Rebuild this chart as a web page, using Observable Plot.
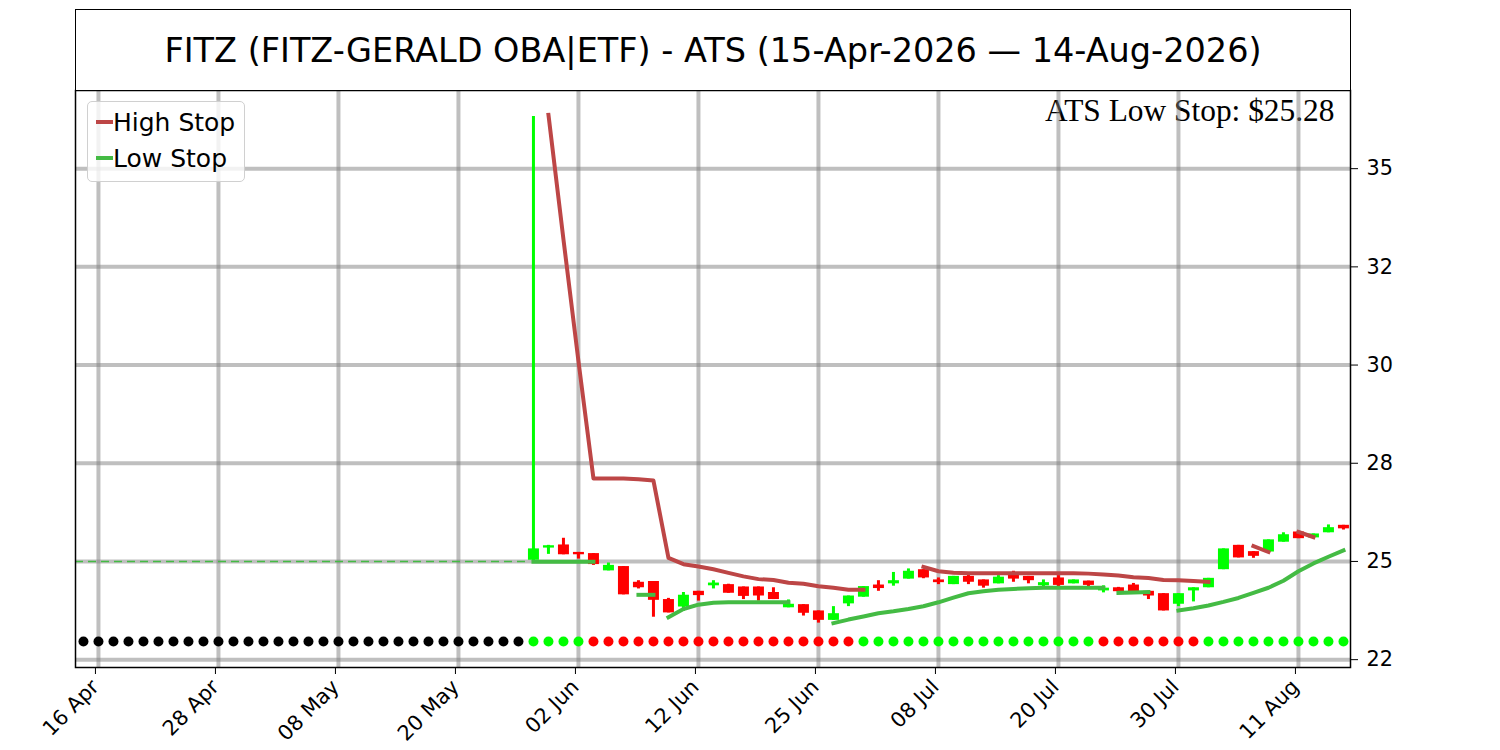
<!DOCTYPE html>
<html>
<head>
<meta charset="utf-8">
<script src="https://cdn.jsdelivr.net/npm/d3@7"></script>
<script src="https://cdn.jsdelivr.net/npm/@observablehq/plot@0.6"></script>
<style>
body { margin: 0; background: #fff; }
#wrap { position: relative; width: 1500px; height: 750px; font-family: "DejaVu Sans"; }
#chart { position: absolute; left: 0; top: 0; }
#title {
  position: absolute; left: 75px; top: 9px; width: 1276px; height: 82px;
  box-sizing: border-box; border: 1.6px solid #000; background: #fff;
  display: flex; align-items: center; justify-content: center;
  font-size: 33.5px; color: #000;
}
#legend {
  position: absolute; left: 87px; top: 101px; width: 158px; height: 81px;
  box-sizing: border-box; border: 1.5px solid #d0d0d0; border-radius: 5px;
  background: rgba(255,255,255,0.8); padding-top: 2px;
}
.row { display: flex; align-items: center; height: 36px; font-size: 25px; color: #000; }
.sw { width: 17px; height: 4px; margin-left: 8px; margin-right: 0px; }
</style>
</head>
<body>
<div id="wrap">
  <div id="chart"></div>
  <div id="title">FITZ (FITZ-GERALD OBA|ETF) - ATS (15-Apr-2026 — 14-Aug-2026)</div>
  <div id="legend"></div>
</div>
<script>
// x = trading day index, 0 = 15 Apr 2026
const tickDays = [1, 9, 17, 25, 33, 41, 49, 57, 65, 73, 81];
const tickLabels = ["16 Apr", "28 Apr", "08 May", "20 May", "02 Jun", "12 Jun", "25 Jun", "08 Jul", "20 Jul", "30 Jul", "11 Aug"];
const yTicks = [22.5, 25, 27.5, 30, 32.5, 35];
const yTickLabels = ["22", "25", "28", "30", "32", "35"];

// candles from day 30 (28 May) to day 84 (14 Aug)
const firstDay = 30;
const opens = [25.03, 25.34, 25.42, 25.23, 25.20, 24.76, 24.87, 24.47, 24.49, 24.03,
  23.84, 24.24, 24.38, 24.41, 24.35, 24.35, 24.21, 23.82, 23.90, 23.74,
  23.50, 23.92, 24.09, 24.40, 24.43, 24.55, 24.79, 24.53, 24.41, 24.62,
  24.53, 24.43, 24.67, 24.62, 24.38, 24.58, 24.43, 24.50, 24.25, 24.33,
  24.40, 24.24, 24.18, 23.91, 24.25, 24.33, 24.79, 25.41, 25.25, 25.24,
  25.49, 25.75, 25.60, 25.73, 25.92];
const highs = [36.33, 25.41, 25.59, 25.23, 25.20, 24.96, 24.87, 24.51, 24.49, 24.06,
  24.21, 24.24, 24.51, 24.42, 24.35, 24.35, 24.33, 24.02, 23.90, 23.74,
  23.85, 24.12, 24.36, 24.51, 24.72, 24.81, 24.79, 24.58, 24.62, 24.67,
  24.53, 24.64, 24.75, 24.62, 24.53, 24.64, 24.53, 24.50, 24.38, 24.34,
  24.44, 24.24, 24.18, 24.18, 24.33, 24.57, 25.32, 25.41, 25.25, 25.55,
  25.73, 25.75, 25.70, 25.93, 25.92];
const lows = [25.00, 25.18, 25.17, 25.06, 24.90, 24.76, 24.15, 24.30, 23.58, 23.69,
  23.73, 23.99, 24.30, 24.19, 24.03, 23.99, 24.03, 23.82, 23.61, 23.43,
  23.50, 23.85, 24.09, 24.24, 24.37, 24.55, 24.56, 24.41, 24.41, 24.41,
  24.32, 24.43, 24.47, 24.43, 24.32, 24.36, 24.43, 24.35, 24.20, 24.21,
  24.16, 24.03, 23.74, 23.85, 23.97, 24.33, 24.79, 25.09, 25.08, 25.24,
  25.49, 25.58, 25.60, 25.73, 25.80];
const closes = [25.32, 25.40, 25.17, 25.17, 24.92, 24.90, 24.15, 24.33, 24.01, 23.69,
  24.14, 24.13, 24.45, 24.19, 24.11, 24.12, 24.03, 23.91, 23.68, 23.50,
  23.67, 24.12, 24.36, 24.31, 24.51, 24.75, 24.58, 24.46, 24.62, 24.47,
  24.37, 24.60, 24.55, 24.51, 24.46, 24.39, 24.53, 24.39, 24.32, 24.23,
  24.22, 24.12, 23.74, 24.18, 24.33, 24.57, 25.32, 25.09, 25.13, 25.55,
  25.68, 25.58, 25.70, 25.86, 25.83];

// trend per day: N = no data, U = up, D = down
const trendCodes = "NNNNNNNNNNNNNNNNNNNNNNNNNNNNNN" + "UUUU" + "DDDDDDDDDDDDDDDDDD" +
  "UUUUUUUUUUUUUUUU" + "DDDDDDD" + "UUUUUUUUUU";
const dotLevel = 22.96;

// stop line pieces, each with its first day
const highStop1 = [36.37, 33.2, 30.1, 27.11, 27.11, 27.11, 27.09, 27.06, 25.09, 24.93,
  24.87, 24.80, 24.71, 24.62, 24.55, 24.53, 24.46, 24.43, 24.37, 24.33, 24.28, 24.28];
const highStop2 = [24.86, 24.75, 24.71, 24.70, 24.70, 24.70, 24.70, 24.70, 24.70, 24.70,
  24.70, 24.69, 24.67, 24.64, 24.60, 24.58, 24.53, 24.52, 24.50, 24.48];
const highStop3 = [25.39, 25.24];
const highStop4 = [25.75, 25.62];
const highStarts = [31, 56, 78, 81];

const lowStop1 = [24.99, 24.99, 24.99, 24.99, 24.99];
const lowStop2 = [24.15, 24.15];
const lowStop3 = [23.58, 23.79, 23.90, 23.95, 23.96, 23.96, 23.96, 23.96, 23.96];
const lowStop4 = [23.43, 23.52, 23.60, 23.68, 23.73, 23.79, 23.86, 23.96, 24.08, 24.19,
  24.24, 24.28, 24.30, 24.32, 24.33, 24.33, 24.33, 24.33, 24.33];
const lowStop5 = [24.20, 24.21, 24.22];
const lowStop6 = [23.75, 23.81, 23.88, 23.97, 24.07, 24.20, 24.33, 24.51, 24.75, 24.95, 25.12, 25.28];
const lowStarts = [30, 37, 39, 50, 69, 73];
const startLevel = 25.0;

const highColor = "#bd4646";
const lowColor = "#44bb44";
const upColor = "#00ff00";
const downColor = "#ff0000";

const candles = opens.map((o, k) => ({i: firstDay + k, o, h: highs[k], l: lows[k], c: closes[k],
  color: closes[k] >= o ? upColor : downColor}));
const dots = trendCodes.split("").map((t, i) => ({i, lvl: dotLevel,
  color: t === "U" ? upColor : t === "D" ? downColor : "black"}));

function pieces(list, starts) {
  const rows = [];
  list.forEach((vals, s) => vals.forEach((v, k) => rows.push({i: starts[s] + k, v, seg: s})));
  return rows;
}
const highRows = pieces([highStop1, highStop2, highStop3, highStop4], highStarts);
const lowRows = pieces([lowStop1, lowStop2, lowStop3, lowStop4, lowStop5, lowStop6], lowStarts);
const lastLow = lowStop6[lowStop6.length - 1];

const chart = Plot.plot({
  width: 1500,
  height: 750,
  marginLeft: 75,
  marginRight: 150,
  marginTop: 90,
  marginBottom: 83,
  x: {domain: [-0.53, 84.47]},
  y: {domain: [22.30, 36.99]},
  color: {type: "identity"},
  style: {fontFamily: "DejaVu Sans", background: "white", color: "black"},
  marks: [
    Plot.text([`ATS Low Stop: $${lastLow.toFixed(2)}`], {frameAnchor: "top-right", dx: -16, dy: 8,
      lineAnchor: "top", fontFamily: "Liberation Serif", fontSize: 31.4, fill: "black"}),
    Plot.gridX(tickDays, {stroke: "gray", strokeOpacity: 0.5, strokeWidth: 4}),
    Plot.gridY(yTicks, {stroke: "gray", strokeOpacity: 0.5, strokeWidth: 4}),
    Plot.ruleY([startLevel], {x1: -0.53, x2: 29.8, stroke: lowColor, strokeWidth: 1.5, strokeDasharray: "8,5"}),
    Plot.dot(dots, {x: "i", y: "lvl", r: 5, fill: "color"}),
    Plot.ruleX(candles, {x: "i", y1: "l", y2: "h", stroke: "color", strokeWidth: 3}),
    Plot.ruleX(candles, {x: "i", y1: "o", y2: "c", stroke: "color", strokeWidth: 11}),
    Plot.line(highRows, {x: "i", y: "v", z: "seg", stroke: highColor, strokeWidth: 4,
      strokeLinecap: "square", strokeLinejoin: "round"}),
    Plot.line(lowRows, {x: "i", y: "v", z: "seg", stroke: lowColor, strokeWidth: 4,
      strokeLinecap: "square", strokeLinejoin: "round"}),
    Plot.frame({stroke: "black", strokeWidth: 1.5}),
    Plot.axisY(yTicks, {anchor: "right", tickSize: 7, tickPadding: 9, fontSize: 20.8,
      tickFormat: d => yTickLabels[yTicks.indexOf(d)], label: null}),
    Plot.axisX(tickDays, {anchor: "bottom", tickSize: 7, tickPadding: 9, dx: -3, tickRotate: -45, fontSize: 20.8,
      textAnchor: "end", tickFormat: d => tickLabels[tickDays.indexOf(d)], label: null})
  ]
});
document.getElementById("chart").append(chart);

const legend = document.getElementById("legend");
[["High Stop", highColor], ["Low Stop", lowColor]].forEach(([name, col]) => {
  const row = document.createElement("div");
  row.className = "row";
  row.innerHTML = `<span class="sw" style="background:${col}"></span><span>${name}</span>`;
  legend.append(row);
});
</script>
</body>
</html>
